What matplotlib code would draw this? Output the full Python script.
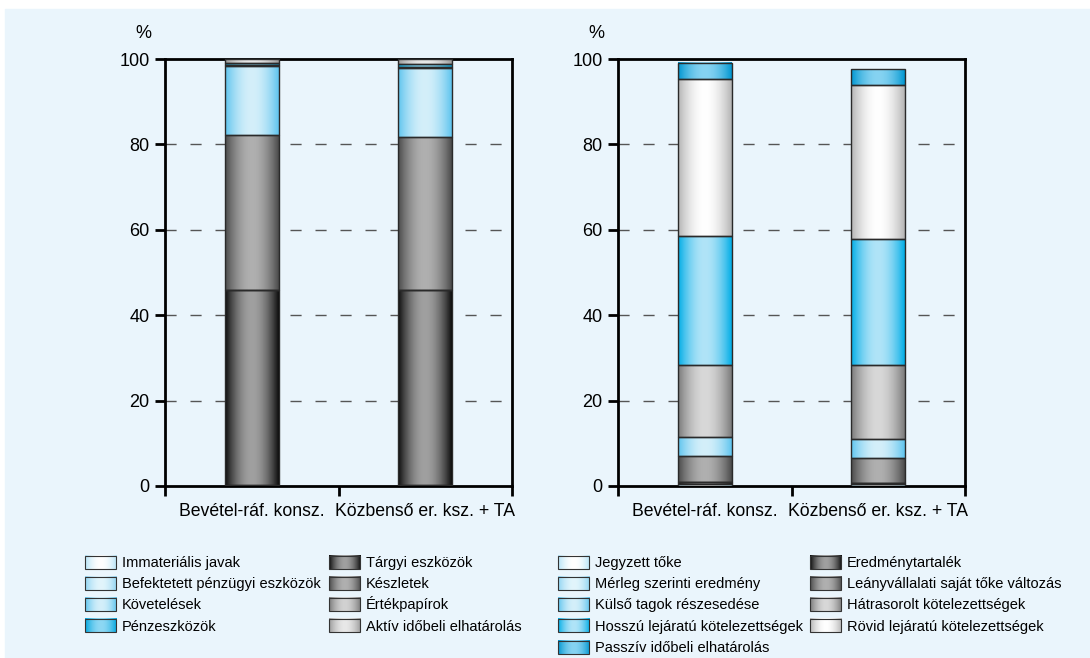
import numpy as np
import matplotlib
matplotlib.use("Agg")
import matplotlib.pyplot as plt
from matplotlib.patches import Rectangle
from matplotlib.legend_handler import HandlerBase
from matplotlib.image import BboxImage
from matplotlib.transforms import Bbox, TransformedBbox
from matplotlib.colors import to_rgb

# Data (percent of balance sheet total)
categories = ["Bevétel-ráf. konsz.", "Közbenső er. ksz. + TA"]

asset_names = ["Immateriális javak", "Tárgyi eszközök", "Befektetett pénzügyi eszközök",
               "Készletek", "Követelések", "Értékpapírok", "Pénzeszközök",
               "Aktív időbeli elhatárolás"]
asset_values = [
    [0.3, 0.3],     # Immateriális javak
    [45.6, 45.7],   # Tárgyi eszközök
    [0.0, 0.0],     # Befektetett pénzügyi eszközök
    [36.3, 35.8],   # Készletek
    [16.1, 16.0],   # Követelések
    [0.2, 0.3],     # Értékpapírok
    [0.5, 0.7],     # Pénzeszközök
    [1.0, 1.2],     # Aktív időbeli elhatárolás
]

liab_names = ["Jegyzett tőke", "Eredménytartalék", "Mérleg szerinti eredmény",
              "Leányvállalati saját tőke változás", "Külső tagok részesedése",
              "Hátrasorolt kötelezettségek", "Hosszú lejáratú kötelezettségek",
              "Rövid lejáratú kötelezettségek", "Passzív időbeli elhatárolás"]
liab_values = [
    [0.4, 0.4],     # Jegyzett tőke
    [0.6, 0.4],     # Eredménytartalék
    [0.0, 0.0],     # Mérleg szerinti eredmény
    [6.1, 5.8],     # Leányvállalati saját tőke változás
    [4.3, 4.5],     # Külső tagok részesedése
    [17.0, 17.3],   # Hátrasorolt kötelezettségek
    [30.1, 29.4],   # Hosszú lejáratú kötelezettségek
    [36.7, 36.2],   # Rövid lejáratú kötelezettségek
    [3.8, 3.7],     # Passzív időbeli elhatárolás
]

# (edge colour, centre colour) of the cylinder-like gradient
asset_colors = [("#b5e3f6", "#ffffff"), ("#0d0d0d", "#a0a0a0"), ("#8fd4f2", "#e2f5fc"),
                ("#4a4a4a", "#b0b0b0"), ("#5ec4ee", "#d4effa"), ("#7a7a7a", "#d2d2d2"),
                ("#00a6de", "#8dd8f4"), ("#9a9a9a", "#e8e8e8")]
liab_colors = [("#b5e3f6", "#ffffff"), ("#0d0d0d", "#a0a0a0"), ("#8fd4f2", "#e2f5fc"),
               ("#4a4a4a", "#b0b0b0"), ("#5ec4ee", "#d4effa"), ("#7a7a7a", "#d8d8d8"),
               ("#00ade6", "#b0e4f8"), ("#b4b4b4", "#ffffff"), ("#0096d0", "#86d3f2")]

BG = "#eaf5fc"
FONT = ["Liberation Sans", "DejaVu Sans"]


def gradient(colors, n=64):
    edge = np.array(to_rgb(colors[0]))
    center = np.array(to_rgb(colors[1]))
    t = np.linspace(0, 1, n)
    w = np.sin(np.pi * t) ** 0.9
    row = edge[None, :] + (center - edge)[None, :] * w[:, None]
    return np.repeat(row[None, :, :], 2, axis=0)


class GradKey:
    def __init__(self, colors):
        self.colors = colors


class GradHandler(HandlerBase):
    # swatch height in points, centred in the (taller) legend row
    swatch_h = 9.4

    def create_artists(self, legend, orig_handle, xdescent, ydescent, width, height, fontsize, trans):
        y0 = -ydescent + (height - self.swatch_h) / 2
        bb = TransformedBbox(Bbox.from_bounds(-xdescent, y0, width, self.swatch_h), trans)
        img = BboxImage(bb, interpolation="bilinear")
        img.set_data(gradient(orig_handle.colors))
        rect = Rectangle((-xdescent, y0), width, self.swatch_h, fill=False,
                         ec="#333333", lw=0.8, transform=trans)
        return [img, rect]


def stacked(ax, values, colors):
    x = np.arange(len(categories))
    bottom = np.zeros(len(categories))
    for vals, cols in zip(values, colors):
        bars = ax.bar(x, vals, bottom=bottom, width=0.31, color="none",
                      edgecolor="#2a2a2a", linewidth=1.0, zorder=4)
        for rect in bars:
            x0, y0 = rect.get_x(), rect.get_y()
            ax.imshow(gradient(cols), extent=(x0, x0 + rect.get_width(), y0, y0 + rect.get_height()),
                      aspect="auto", interpolation="bilinear", zorder=3)
        bottom += np.array(vals)


def style(ax):
    ax.set_facecolor(BG)
    ax.set_xlim(-0.5, 1.5)
    ax.set_ylim(0, 100)
    ax.set_yticks([0, 20, 40, 60, 80, 100])
    ax.set_xticks([-0.5, 0.5, 1.5])
    ax.set_xticklabels([])
    ax.set_xticks([0, 1], minor=True)
    ax.set_xticklabels(categories, minor=True, family=FONT, fontsize=12.7)
    ax.tick_params(axis="x", which="minor", length=0, pad=12)
    ax.tick_params(axis="x", which="major", direction="out", length=7, width=2)
    ax.tick_params(axis="y", direction="out", length=7, width=2, labelsize=13, pad=4)
    for lab in ax.get_yticklabels():
        lab.set_family(FONT)
    for s in ax.spines.values():
        s.set_linewidth(2)
        s.set_color("black")
    for yv in [20, 40, 60, 80]:
        ax.axhline(yv, color="#555555", lw=1.0, ls=(0, (8, 10)), zorder=1)
    ax.text(-0.063, 1.06, "%", transform=ax.transAxes, fontsize=13, family=FONT,
            ha="center", va="center")


fig = plt.figure(figsize=(10.9, 6.58), dpi=100)
fig.patch.set_facecolor("white")
fig.patches.append(Rectangle((5 / 1090, 0), 1, 1 - 9 / 658, transform=fig.transFigure,
                             color=BG, zorder=-10))

ax1 = fig.add_axes([165 / 1090, 172 / 658, 347 / 1090, 427 / 658])
ax2 = fig.add_axes([618 / 1090, 172 / 658, 347 / 1090, 427 / 658])

stacked(ax1, asset_values, asset_colors)
stacked(ax2, liab_values, liab_colors)
style(ax1)
style(ax2)


def legend_column(names, colors, idx, x, y):
    handles = [GradKey(colors[i]) for i in idx]
    labels = [names[i] for i in idx]
    leg = fig.legend(handles, labels, handler_map={GradKey: GradHandler()},
                     loc="upper left", bbox_to_anchor=(x / 1090, 1 - y / 658),
                     frameon=False, borderpad=0, borderaxespad=0,
                     handlelength=2.15, handleheight=1.77, handletextpad=0.38,
                     labelspacing=0.06, prop={"family": FONT, "size": 10.5})
    return leg


legend_column(asset_names, asset_colors, [0, 2, 4, 6], 85, 552)
legend_column(asset_names, asset_colors, [1, 3, 5, 7], 329, 552)
legend_column(liab_names, liab_colors, [0, 2, 4, 6, 8], 558, 552)
legend_column(liab_names, liab_colors, [1, 3, 5, 7], 810, 552)

fig.savefig("out.png", dpi=100, facecolor=fig.get_facecolor())
